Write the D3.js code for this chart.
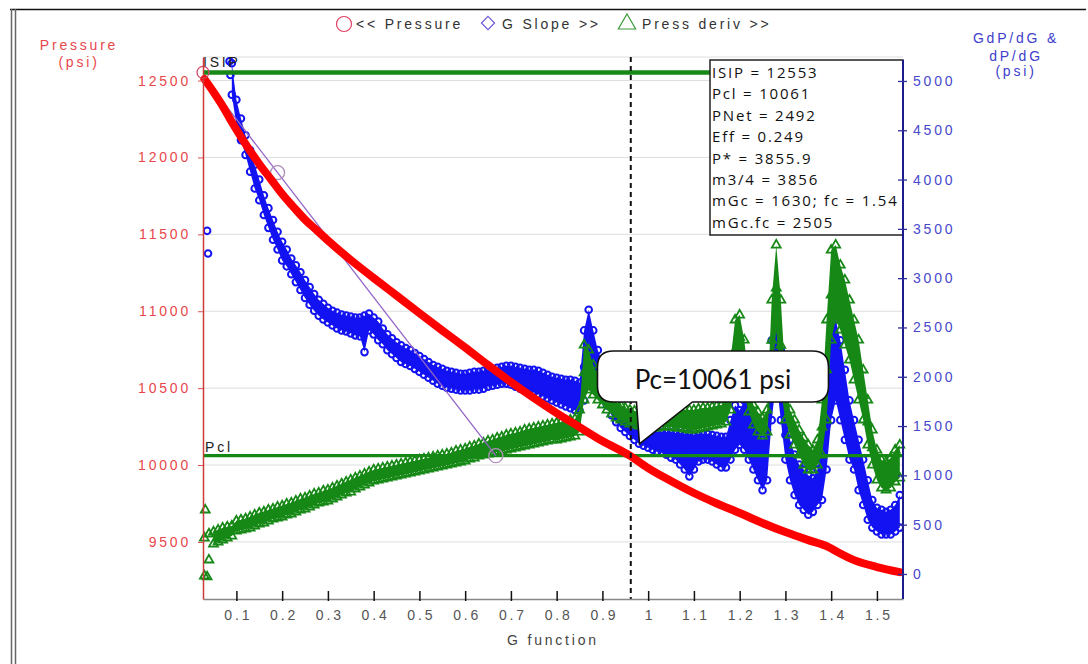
<!DOCTYPE html>
<html><head><meta charset="utf-8">
<script src="https://cdn.jsdelivr.net/npm/d3@7"></script>
<style>body{margin:0;background:#fff} svg{display:block}</style>
</head><body>
<svg id="chart" width="1088" height="664"></svg>
<script>
// ---- G-function sample positions (shared by both derivative series) ----
const gValues = [
  0.03,0.04,0.05,0.06,0.07,0.08,0.09,
  0.10,0.11,0.12,0.13,0.14,0.15,0.16,0.17,0.18,0.19,
  0.20,0.21,0.22,0.23,0.24,0.25,0.26,0.27,0.28,0.29,
  0.30,0.31,0.32,0.33,0.34,0.35,0.36,0.37,0.38,0.39,
  0.40,0.41,0.42,0.43,0.44,0.45,0.46,0.47,0.48,0.49,
  0.50,0.51,0.52,0.53,0.54,0.55,0.56,0.57,0.58,0.59,
  0.60,0.61,0.62,0.63,0.64,0.65,0.66,0.67,0.68,0.69,
  0.70,0.71,0.72,0.73,0.74,0.75,0.76,0.77,0.78,0.79,
  0.80,0.81,0.82,0.83,0.84,0.85,0.86,0.87,0.88,0.89,
  0.90,0.91,0.92,0.93,0.94,0.95,0.96,0.97,0.98,0.99,
  1.00,1.01,1.02,1.03,1.04,1.05,1.06,1.07,1.08,1.09,
  1.10,1.11,1.12,1.13,1.14,1.15,1.16,1.17,1.18,1.19,
  1.20,1.21,1.22,1.23,1.24,1.25,1.26,1.27,1.28,1.29,
  1.30,1.31,1.32,1.33,1.34,1.35,1.36,1.37,1.38,1.39,
  1.40,1.41,1.42,1.43,1.44,1.45,1.46,1.47,1.48,1.49,
  1.50,1.51,1.52,1.53,1.54,1.55
];

// G slope (G·dP/dG, psi) – upper and lower edge of the point cloud
const gSlopeHi = [
  null,null,null,null,null,null,5180,
  4810,4620,4450,4300,4150,4000,3840,3710,3590,3470,
  3370,3290,3200,3130,3060,2980,2910,2840,2780,2740,
  2700,2670,2650,2630,2620,2610,2600,2600,2620,2640,
  2600,2560,2490,2430,2390,2350,2320,2290,2270,2240,
  2210,2180,2150,2120,2100,2080,2060,2050,2040,2030,
  2030,2040,2050,2050,2060,2070,2080,2090,2100,2110,
  2110,2100,2090,2080,2070,2070,2060,2040,2020,2000,
  1990,1980,1970,1970,1960,1940,2470,2680,2470,2270,
  2150,1990,1850,1740,1660,1600,1560,1520,1490,1470,
  1460,1450,1440,1440,1440,1440,1430,1430,1420,1420,
  1410,1420,1420,1420,1410,1400,1390,1390,1560,1710,
  1660,1760,1710,1610,1510,1360,1460,2370,2680,2270,
  1660,1360,1210,1110,1060,1000,970,1060,1360,1970,
  2470,2580,2370,2070,1760,1560,1360,1160,950,750,
  670,650,630,650,700,800
];
const gSlopeLo = [
  null,null,null,null,null,null,4860,
  4550,4400,4250,4080,3910,3790,3640,3510,3390,3290,
  3180,3120,3040,2960,2880,2800,2730,2670,2620,2580,
  2550,2520,2490,2470,2460,2440,2420,2410,2250,2470,
  2430,2370,2330,2270,2230,2190,2150,2130,2110,2080,
  2050,2020,1990,1960,1930,1910,1890,1880,1870,1860,
  1860,1860,1870,1870,1880,1900,1910,1920,1930,1930,
  1920,1900,1880,1860,1850,1840,1820,1800,1780,1760,
  1740,1720,1700,1680,1660,1660,1760,2170,2050,1910,
  1810,1710,1610,1540,1480,1440,1400,1360,1320,1300,
  1280,1260,1240,1230,1210,1180,1160,1110,1060,990,
  1060,1140,1160,1160,1140,1110,1080,1080,1160,1260,
  1310,1260,1160,1060,950,850,950,1560,1970,1560,
  1160,950,800,700,650,600,630,700,750,1060,
  1560,1760,1560,1360,1160,1060,850,700,550,470,
  430,400,400,400,430,470
];
// extra G slope readings inside the taller spikes
const gSlopeSpikeG = [0.86,0.87,0.88,0.89,1.07,1.08,1.09,1.19,1.21,1.22,1.23,1.24,1.25,1.27,1.28,1.29,1.30,1.38,1.39,1.40,1.41,1.42,1.43,1.44,1.45,1.46];
const gSlopeSpikeV = [2100,2420,2250,2090,1270,1240,1200,1480,1500,1430,1330,1230,1100,1960,2320,1910,1410,1050,1510,2010,2170,1960,1710,1460,1310,1100];
// isolated early G slope points
const gSlopeEarlyG = [0.036,0.038,0.085,0.087];
const gSlopeEarlyV = [3480,3250,5200,5060];

// Pressure derivative (dP/dG, psi) – upper and lower edge of the point cloud
const dPdGHi = [
  365,406,426,446,466,477,487,
  537,548,558,578,598,619,629,649,659,679,
  690,710,720,740,761,771,791,811,821,842,
  852,872,892,913,933,953,973,994,1014,1034,
  1055,1065,1075,1085,1095,1105,1115,1126,1136,1146,
  1156,1166,1176,1186,1197,1207,1217,1227,1247,1257,
  1268,1288,1298,1318,1328,1349,1359,1379,1389,1409,
  1420,1430,1440,1460,1470,1480,1491,1501,1511,1521,
  1531,1541,1551,1562,1572,1663,2322,2271,2119,2018,
  1916,1845,1785,1744,1714,1683,1663,1653,1643,1643,
  1643,1643,1653,1663,1663,1673,1673,1673,1663,1663,
  1663,1673,1683,1683,1693,1704,1714,1764,2170,2576,
  2626,2373,1967,1714,1643,1582,1663,2778,3336,2778,
  1967,1663,1562,1460,1379,1308,1257,1359,1764,2576,
  3285,3336,3133,2981,2778,2576,2373,2069,1764,1460,
  1257,1156,1136,1176,1257,1308
];
const dPdGLo = [
  -20,142,304,324,345,365,385,
  436,446,456,466,487,507,517,537,558,568,
  578,598,608,629,649,659,679,700,720,730,
  740,761,781,801,821,831,862,882,902,923,
  943,953,963,973,984,994,1004,1014,1024,1034,
  1044,1055,1065,1075,1085,1095,1105,1115,1126,1136,
  1146,1166,1176,1197,1207,1217,1227,1237,1247,1257,
  1268,1278,1288,1298,1308,1318,1328,1339,1349,1359,
  1359,1369,1379,1389,1399,1440,1764,1866,1815,1764,
  1714,1663,1622,1582,1562,1541,1521,1511,1501,1491,
  1480,1480,1480,1491,1491,1491,1480,1480,1470,1460,
  1460,1470,1480,1491,1501,1511,1521,1541,1663,1967,
  2170,1815,1643,1511,1440,1399,1440,1967,2474,1866,
  1562,1409,1308,1207,1105,1055,1055,1105,1207,1562,
  2373,2576,2474,2322,2170,1967,1764,1562,1308,1105,
  953,872,852,872,933,973
];
const dPdGSpikeG = [0.86,0.87,1.18,1.19,1.20,1.21,1.27,1.28,1.29,1.38,1.39,1.40,1.41,1.42,1.43,1.44,1.45,1.46,1.47,1.48,1.49];
const dPdGSpikeV = [2040,2070,1920,2270,2400,2090,2370,2900,2320,1490,2070,2830,2960,2800,2650,2470,2270,2070,1810,1540,1280];
const dPdGEarlyG = [0.032,0.036];
const dPdGEarlyV = [649,-30];

// Bottomhole pressure (psi) versus G function
const pressureG = [0.030,0.05,0.07,0.09,0.11,0.13,0.15,0.175,0.20,0.225,0.25,0.275,0.30,0.35,0.40,0.45,0.50,0.55,0.60,0.65,0.70,0.75,0.80,0.85,0.90,0.96,1.00,1.05,1.10,1.15,1.20,1.25,1.30,1.35,1.39,1.41,1.45,1.50,1.55];
const pressureP = [12510,12425,12334,12230,12133,12042,11957,11860,11762,11677,11596,11528,11460,11333,11216,11102,10988,10875,10764,10650,10540,10436,10338,10247,10156,10061,9980,9896,9818,9750,9688,9623,9564,9512,9473,9441,9382,9337,9304];

// Analysis results
const isip = 12553;
const closurePressure = 10061;
const closureG = 0.962;
const tangentG = [0.027, 0.667];
const tangentP = [12530, 10061];
const tangentMarkG = [0.19, 0.667];
const infoLines = ["ISIP = 12553","Pcl = 10061","PNet = 2492","Eff = 0.249","P* = 3855.9","m3/4 = 3856","mGc = 1630; fc = 1.54","mGc.fc = 2505"];

// Axis ticks
const xTicks = [0.1,0.2,0.3,0.4,0.5,0.6,0.7,0.8,0.9,1.0,1.1,1.2,1.3,1.4,1.5];
const pressureTicks = [9500,10000,10500,11000,11500,12000,12500];
const derivTicks = [0,500,1000,1500,2000,2500,3000,3500,4000,4500,5000];

// ---- drawing ----
const svg = d3.select('#chart');
const plot = {left:203, right:903, top:57, bottom:599};
const x = d3.scaleLinear().domain([0.027,1.557]).range([plot.left, plot.right]);
const yP = d3.scaleLinear().domain([9129,12653]).range([plot.bottom, plot.top]);
const yD = d3.scaleLinear().domain([-254,5243]).range([plot.bottom, plot.top]);

const RED = '#ff0000', BLUE = '#1212f2', GREEN = '#168816';
const FONT = '"Liberation Sans", Arial, sans-serif';
const SPACING = '2.8px';

function label(sel) {
  return sel.attr('font-family',FONT).attr('font-size',14).style('letter-spacing',SPACING);
}

svg.append('rect').attr('width',1088).attr('height',664).attr('fill','#fff');

// frame around the figure
svg.append('line').attr('x1',10).attr('x2',1086).attr('y1',9.5).attr('y2',9.5).attr('stroke','#111').attr('stroke-width',1.5);
[11.5,15.5].forEach(xx => svg.append('line').attr('x1',xx).attr('x2',xx).attr('y1',9).attr('y2',664).attr('stroke','#666').attr('stroke-width',1.5));

// horizontal grid at pressure ticks
svg.append('g').selectAll('line').data(pressureTicks).join('line')
  .attr('x1',plot.left).attr('x2',plot.right)
  .attr('y1',d=>yP(d)).attr('y2',d=>yP(d))
  .attr('stroke','#dddddd').attr('stroke-width',1);
svg.append('line').attr('x1',plot.left).attr('x2',plot.right).attr('y1',plot.top).attr('y2',plot.top).attr('stroke','#dddddd');

// G slope cloud: filled extent between the upper and lower readings, edged with markers
const blueRows = gValues.map((g,i)=>({g, hi:gSlopeHi[i], lo:gSlopeLo[i]}));
svg.append('path').datum(blueRows)
  .attr('d', d3.area().defined(d=>d.hi!=null).x(d=>x(d.g)).y0(d=>yD(d.lo)).y1(d=>yD(d.hi)))
  .attr('fill',BLUE);
const bluePts = [];
blueRows.forEach(d => { if (d.hi!=null) { bluePts.push([d.g,d.hi]); bluePts.push([d.g,d.lo]); } });
gSlopeSpikeG.forEach((g,i) => bluePts.push([g,gSlopeSpikeV[i]]));
gSlopeEarlyG.forEach((g,i) => bluePts.push([g,gSlopeEarlyV[i]]));
svg.append('g').attr('fill','none').attr('stroke',BLUE).attr('stroke-width',2)
  .selectAll('circle').data(bluePts).join('circle')
  .attr('cx',d=>x(d[0])).attr('cy',d=>yD(d[1])).attr('r',3.3);

// pressure derivative cloud
const greenRows = gValues.map((g,i)=>({g, hi:dPdGHi[i], lo:dPdGLo[i]}));
svg.append('path').datum(greenRows.filter(d=>d.g>=0.05))
  .attr('d', d3.area().x(d=>x(d.g)).y0(d=>yD(d.lo)).y1(d=>yD(d.hi)))
  .attr('fill',GREEN);
const tri = d3.symbol().type(d3.symbolTriangle).size(34);
const greenPts = [];
greenRows.forEach(d => { greenPts.push([d.g,d.hi]); greenPts.push([d.g,d.lo]); });
dPdGSpikeG.forEach((g,i) => greenPts.push([g,dPdGSpikeV[i]]));
dPdGEarlyG.forEach((g,i) => greenPts.push([g,dPdGEarlyV[i]]));
svg.append('g').attr('fill','none').attr('stroke',GREEN).attr('stroke-width',1.8)
  .selectAll('path').data(greenPts).join('path')
  .attr('d',tri).attr('transform',d=>`translate(${x(d[0])},${yD(d[1])})`);

// ISIP and closure levels
svg.append('line').attr('x1',plot.left).attr('x2',plot.right).attr('y1',yP(isip)).attr('y2',yP(isip))
  .attr('stroke',GREEN).attr('stroke-width',4.5);
svg.append('line').attr('x1',plot.left).attr('x2',plot.right).attr('y1',yP(closurePressure)).attr('y2',yP(closurePressure))
  .attr('stroke',GREEN).attr('stroke-width',3.2);
label(svg.append('text')).attr('x',plot.left).attr('y',67).text('ISIP').attr('fill','#222');
label(svg.append('text')).attr('x',plot.left+2).attr('y',452).text('Pcl').attr('fill','#222');

// tangent line through the straight-line section
svg.append('line').attr('x1',x(tangentG[0])).attr('y1',yP(tangentP[0])).attr('x2',x(tangentG[1])).attr('y2',yP(tangentP[1]))
  .attr('stroke','#9466c8').attr('stroke-width',1.3);
const tangentAt = g => tangentP[0] + (tangentP[1]-tangentP[0])*(g-tangentG[0])/(tangentG[1]-tangentG[0]);
svg.append('g').selectAll('circle').data(tangentMarkG).join('circle')
  .attr('cx',d=>x(d)).attr('cy',d=>yP(tangentAt(d))).attr('r',7)
  .attr('fill','none').attr('stroke','#b090b8').attr('stroke-width',1.3);

// pressure curve
svg.append('path').datum(pressureG.map((g,i)=>[g,pressureP[i]]))
  .attr('d', d3.line().x(d=>x(d[0])).y(d=>yP(d[1])).curve(d3.curveMonotoneX))
  .attr('fill','none').attr('stroke',RED).attr('stroke-width',8).attr('stroke-linecap','round');
svg.append('circle').attr('cx',x(0.027)).attr('cy',yP(isip)).attr('r',6)
  .attr('fill','none').attr('stroke','#d04a6a').attr('stroke-width',1.3);

// closure time marker
svg.append('line').attr('x1',x(closureG)).attr('x2',x(closureG)).attr('y1',plot.top).attr('y2',plot.bottom)
  .attr('stroke','#111').attr('stroke-width',2).attr('stroke-dasharray','5,4');

// x axis
const xAxis = svg.append('g').attr('transform',`translate(0,${plot.bottom})`)
  .call(d3.axisBottom(x).tickValues(xTicks).tickSizeInner(-8).tickSizeOuter(0).tickPadding(11).tickFormat(d=>String(+d.toFixed(1))));
xAxis.select('.domain').attr('stroke','#888').attr('stroke-width',1.5);
xAxis.selectAll('.tick line').attr('stroke','#111').attr('stroke-width',1.5).attr('y1',2);
label(xAxis.selectAll('.tick text')).attr('fill','#555').attr('dx','1.4px');
label(svg.append('text')).attr('x',553).attr('y',645).attr('text-anchor','middle').text('G function').attr('fill','#444');

// left (pressure) axis
const lAxis = svg.append('g').attr('transform',`translate(${plot.left},0)`)
  .call(d3.axisLeft(yP).tickValues(pressureTicks).tickSizeInner(5).tickSizeOuter(0).tickPadding(7).tickFormat(d3.format('d')));
lAxis.select('.domain').attr('stroke','#cc3a3a').attr('stroke-width',1.5);
lAxis.selectAll('.tick line').attr('stroke','#e05050');
label(lAxis.selectAll('.tick text')).attr('fill','#e8474c');
label(svg.append('text')).attr('x',79).attr('y',50).attr('text-anchor','middle').text('Pressure').attr('fill','#e8474c');
label(svg.append('text')).attr('x',79).attr('y',67).attr('text-anchor','middle').text('(psi)').attr('fill','#e8474c');

// info box with analysis results
const boxL = x.range()[1] - 193, boxT = 60, boxB = 235;
svg.append('rect').attr('x',boxL).attr('y',boxT).attr('width',plot.right-boxL).attr('height',boxB-boxT)
  .attr('fill','#fff').attr('stroke','#222').attr('stroke-width',1.5);
svg.append('g').selectAll('text').data(infoLines).join('text')
  .attr('x',boxL+2).attr('y',(d,i)=>78+i*21.4).text(d=>d)
  .attr('font-family','"Open Sans", sans-serif').attr('font-size',15).style('letter-spacing','1.8px').attr('fill','#111');

// right (derivative) axis
const rAxis = svg.append('g').attr('transform',`translate(${plot.right},0)`)
  .call(d3.axisRight(yD).tickValues(derivTicks).tickSizeInner(4).tickSizeOuter(0).tickPadding(6).tickFormat(d3.format('d')));
rAxis.select('.domain').attr('stroke','#1c1c8a').attr('stroke-width',2).attr('d',`M0,${boxT}V${plot.bottom}`);
rAxis.selectAll('.tick line').attr('stroke','#3030a0').attr('x1',-5).attr('stroke-width',1.3);
label(rAxis.selectAll('.tick text')).attr('fill','#4848cc');
[['GdP/dG &',43],['dP/dG',61],['(psi)',76]].forEach(([t,yy]) =>
  label(svg.append('text')).attr('x',1016).attr('y',yy).attr('text-anchor','middle').text(t).attr('fill','#4040cc'));

// legend
const lg = svg.append('g').attr('fill','#333');
lg.append('circle').attr('cx',344).attr('cy',24).attr('r',7.5).attr('fill','none').attr('stroke','#e04060').attr('stroke-width',1.2);
label(lg.append('text')).attr('x',356).attr('y',29).text('<< Pressure');
lg.append('path').attr('d',d3.symbol().type(d3.symbolDiamond2).size(110)).attr('transform','translate(488,23)')
  .attr('fill','none').attr('stroke','#6a5ad8').attr('stroke-width',1.2);
label(lg.append('text')).attr('x',502).attr('y',29).text('G Slope >>');
lg.append('path').attr('d',d3.symbol().type(d3.symbolTriangle).size(130)).attr('transform','translate(627,24)')
  .attr('fill','none').attr('stroke','#3a9a3a').attr('stroke-width',1.2);
label(lg.append('text')).attr('x',642).attr('y',29).text('Press deriv >>');

// callout for closure pressure
const tipX = x(0.981), tipY = yP(10137);
const cl = tipX - 42, cr = tipX + 189, ct = tipY - 93, cb = tipY - 42, rr = 16;
const callout = d3.path();
callout.moveTo(cl+rr, ct);
callout.lineTo(cr-rr, ct); callout.quadraticCurveTo(cr, ct, cr, ct+rr);
callout.lineTo(cr, cb-rr); callout.quadraticCurveTo(cr, cb, cr-rr, cb);
callout.lineTo(tipX+53, cb); callout.lineTo(tipX, tipY); callout.lineTo(tipX-3, cb);
callout.lineTo(cl+rr, cb); callout.quadraticCurveTo(cl, cb, cl, cb-rr);
callout.lineTo(cl, ct+rr); callout.quadraticCurveTo(cl, ct, cl+rr, ct);
callout.closePath();
svg.append('path').attr('d',callout.toString()).attr('fill','#fff').attr('stroke','#111').attr('stroke-width',1.6);
svg.append('text').attr('x',(cl+cr)/2).attr('y',ct+38).attr('text-anchor','middle').text(`Pc=${closurePressure} psi`)
  .attr('font-family','Lato, "Open Sans", sans-serif').attr('font-size',26).attr('fill','#111');
</script>
</body></html>
